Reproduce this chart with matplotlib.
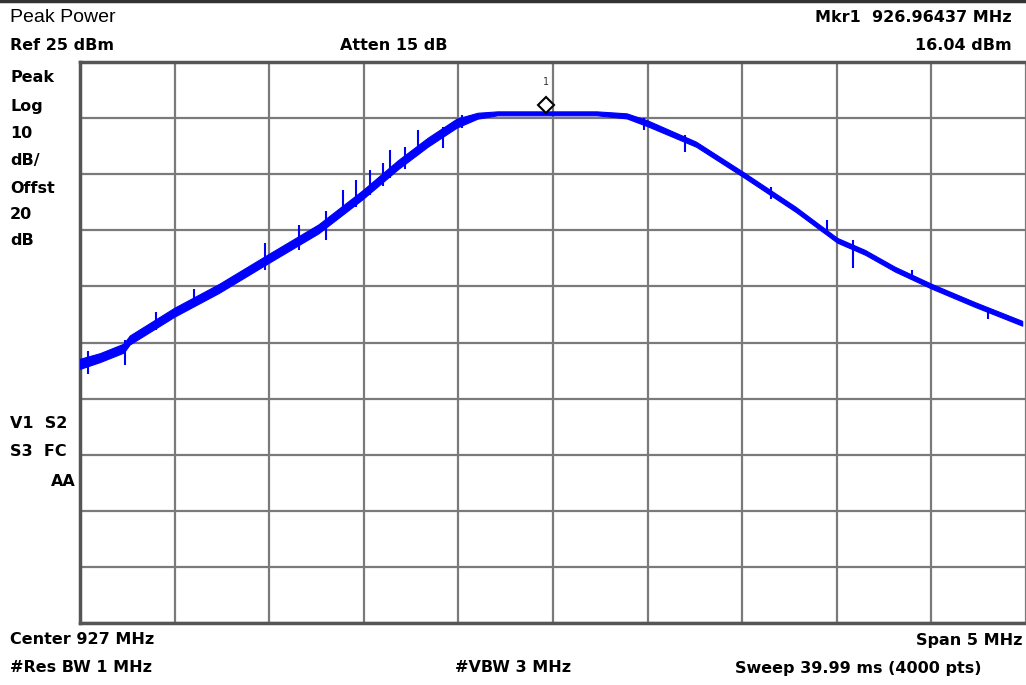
import matplotlib
matplotlib.use("Agg")
import matplotlib.pyplot as plt

# ---- data ----
# frequency (MHz) and level (dBm): upper / lower edge of the displayed trace band
env_freq = [924.500, 924.605, 924.731, 924.763, 924.999, 925.235, 925.493, 925.760,
            925.992, 926.181, 926.338, 926.491, 926.601, 926.706, 927.231, 927.389,
            927.499, 927.756, 928.003, 928.282, 928.502, 928.649, 928.807, 929.001,
            929.226, 929.480]
env_hi = [-27.90, -26.90, -25.20, -23.75, -18.80, -14.55, -9.30, -3.95,
          2.10, 7.50, 11.50, 14.90, 15.95, 16.20, 16.20, 15.85,
          14.60, 10.80, 5.45, -0.80, -6.35, -8.50, -11.50, -14.55,
          -17.75, -21.15]
env_lo = [-29.70, -28.50, -26.80, -25.35, -20.40, -16.15, -10.90, -5.55,
          0.50, 5.90, 9.90, 13.30, 14.90, 15.50, 15.50, 14.95,
          13.55, 9.90, 4.55, -1.70, -7.20, -9.35, -12.35, -15.40,
          -18.60, -22.00]
# narrow glitches in the trace: frequency, top, bottom (dBm)
spike_freq = [924.540, 924.736, 924.900, 925.100, 925.480, 925.655, 925.800, 925.892,
              925.960, 926.034, 926.100, 926.139, 926.220, 926.286, 926.420, 926.520,
              927.480, 927.700, 928.150, 928.450, 928.586, 928.900, 929.300]
spike_top = [-26.6, -24.5, -19.5, -15.5, -7.2, -4.0, -1.5, 2.2,
             4.0, 5.8, 7.0, 9.4, 9.8, 12.9, 13.5, 15.6,
             15.1, 12.0, 2.8, -3.2, -6.7, -12.0, -19.0]
spike_bot = [-30.6, -29.0, -22.8, -18.6, -12.0, -8.5, -6.8, -2.2,
             -0.8, 1.3, 2.9, 4.4, 6.0, 8.5, 9.6, 13.2,
             12.9, 9.0, 0.6, -5.2, -11.7, -13.9, -20.8]

marker_freq = 926.96437
marker_level = 16.04

ref_level = 25
db_per_div = 10
center = 927.0
span = 5.0

W, H = 1026, 685
fig = plt.figure(figsize=(W / 100, H / 100), dpi=100)
fig.patch.set_facecolor("white")

left_px, right_px, top_px, bot_px = 80, 1026, 62, 623
ax = fig.add_axes([left_px / W, 1 - bot_px / H, (right_px - left_px) / W, (bot_px - top_px) / H])

f0 = center - span / 2
div_w = span / 10
x_right = f0 + div_w * (right_px - left_px) / 95.2
ax.set_xlim(f0, x_right)
ax.set_ylim(ref_level - 10 * db_per_div, ref_level)
ax.set_xticks([f0 + i * div_w for i in range(11)])
ax.set_yticks([ref_level - i * db_per_div for i in range(11)])
ax.tick_params(length=0, labelbottom=False, labelleft=False)
ax.grid(True, color="#7a7a7a", linewidth=1.6)
ax.set_axisbelow(True)
for s in ax.spines.values():
    s.set_color("#555555")
    s.set_linewidth(2.5)
ax.spines["right"].set_visible(False)

blue = "#0000ff"
ax.fill_between(env_freq, env_lo, env_hi, color=blue, linewidth=0.8, edgecolor=blue, zorder=3)
ax.vlines(spike_freq, spike_bot, spike_top, color=blue, linewidth=1.5, zorder=3)

ax.plot([marker_freq], [marker_level + 1.35], marker="D", markersize=8, markerfacecolor="white",
        markeredgecolor="black", markeredgewidth=1.5, zorder=5, clip_on=False)
ax.annotate("1", (marker_freq, marker_level + 1.35), xytext=(0, 13), textcoords="offset points",
            ha="center", va="bottom", fontsize=7, color="#333333", family="DejaVu Sans Mono")

# top border line of the screen
fig.add_artist(plt.Line2D([0, 1], [1 - 1 / H, 1 - 1 / H], color="#333333", linewidth=2.5))

def t(x, y, s, bold=True, ha="left", size=11.5):
    fig.text(x / W, 1 - y / H, s, ha=ha, va="center", fontsize=size,
             fontweight="bold" if bold else "normal",
             family="DejaVu Sans" if bold else "Liberation Sans", color="black")

t(10, 18, "Peak Power", bold=False, size=14)
t(10, 45, "Ref 25 dBm")
t(340, 45, "Atten 15 dB")
t(1012, 18, "Mkr1  926.96437 MHz", ha="right")
t(1012, 45, "16.04 dBm", ha="right")
for y, s in [(77, "Peak"), (106, "Log"), (134, "10"), (160, "dB/"), (189, "Offst"), (215, "20"), (241, "dB")]:
    t(10, y, s)
t(10, 424, "V1  S2")
t(10, 452, "S3  FC")
t(76, 481, "AA", ha="right")
t(10, 640, "Center 927 MHz")
t(1022, 640, "Span 5 MHz", ha="right")
t(10, 668, "#Res BW 1 MHz")
t(455, 668, "#VBW 3 MHz")
t(735, 668, "Sweep 39.99 ms (4000 pts)")

fig.savefig("out.png", dpi=100)
